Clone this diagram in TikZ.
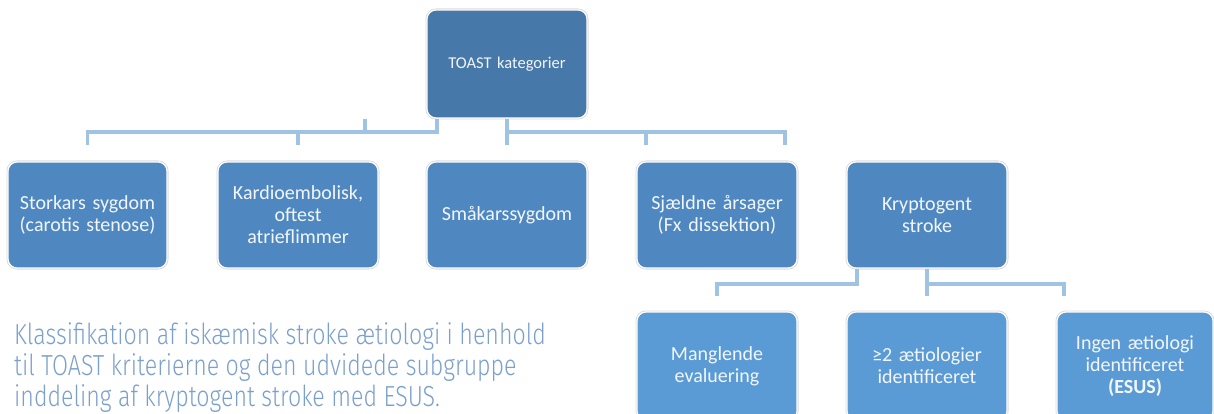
\documentclass[tikz,border=0pt]{standalone}
\usepackage{fontspec}
\setmainfont{Carlito}
\newfontfamily\capfont{Fira Sans Light}
\definecolor{topblue}{RGB}{71,120,170}
\definecolor{midblue}{RGB}{79,136,192}
\definecolor{lowblue}{RGB}{91,155,213}
\definecolor{connblue}{RGB}{160,195,228}
\definecolor{boxtext}{RGB}{242,246,251}
\definecolor{captext}{RGB}{124,160,204}
\newcommand{\captionline}[1]{\scalebox{0.8}[1]{#1}}
\tikzset{
  box/.style={rectangle, rounded corners=9pt, draw=white, line width=1.2pt,
    preaction={draw=black!14, line width=3pt},
    text=boxtext, align=center, inner sep=2pt,
    font=\fontsize{20}{22}\selectfont, text width=150pt},
  conn/.style={draw=connblue, line width=3.5pt},
  caption/.style={anchor=base west, text=captext, inner sep=0pt,
    font=\capfont\fontsize{29}{31}\selectfont}
}
\begin{document}
\begin{tikzpicture}[x=1pt,y=-1pt]
\useasboundingbox (0,0) rectangle (1214,414);
% top
\node[box, fill=topblue, minimum width=160pt, minimum height=108pt,
  font=\fontsize{16.5}{20}\selectfont] (toast) at (507,64) {TOAST kategorier};
% row 1
\node[box, fill=midblue, minimum width=159pt, minimum height=106pt] (b1) at (87.5,215) {Storkars sygdom\\(carotis stenose)};
\node[box, fill=midblue, minimum width=160pt, minimum height=106pt] (b2) at (298,215) {Kardioembolisk,\\oftest\\atrieflimmer};
\node[box, fill=midblue, minimum width=160pt, minimum height=106pt] (b3) at (507,215) {Småkarssygdom};
\node[box, fill=midblue, minimum width=160pt, minimum height=106pt] (b4) at (717,215) {Sjældne årsager\\(Fx dissektion)};
\node[box, fill=midblue, minimum width=160pt, minimum height=106pt] (b5) at (927,215) {Kryptogent\\stroke};
% row 2
\node[box, fill=lowblue, minimum width=160pt, minimum height=108pt] (c1) at (717,366) {Manglende\\evaluering};
\node[box, fill=lowblue, minimum width=160pt, minimum height=108pt] (c2) at (927,366) {≥2 ætiologier\\identificeret};
\node[box, fill=lowblue, minimum width=156pt, minimum height=108pt] (c3) at (1135,366) {Ingen ætiologi\\identificeret\\\textbf{(ESUS)}};
% connector levels
\coordinate (h1) at (0,132);
\coordinate (h2) at (0,284);
% top left group
\draw[conn] ([xshift=-70pt]toast.south) -- ([xshift=-70pt]toast.south |- h1) -| ([yshift=16pt]b1.north);
\draw[conn] (b2.north |- h1) -- ([yshift=16pt]b2.north);
\draw[conn] ([xshift=-142pt]toast.south) -- ([xshift=-142pt]toast.south |- h1);
% top right group
\draw[conn] (toast.south) -- ([yshift=16pt]b3.north);
\draw[conn] (toast.south |- h1) -| ([xshift=68pt,yshift=16pt]b4.north);
\draw[conn] ([xshift=-71pt]b4.north |- h1) -- ([xshift=-71pt,yshift=16pt]b4.north);
% kryptogent group
\draw[conn] ([xshift=-70pt]b5.south) -- ([xshift=-70pt]b5.south |- h2) -| ([yshift=15pt]c1.north);
\draw[conn] (b5.south) -- ([yshift=15pt]c2.north);
\draw[conn] (b5.south |- h2) -| ([xshift=-71pt,yshift=15pt]c3.north);
% caption
\node[caption] (cap1) at (14,344) {\captionline{Klassifikation af iskæmisk stroke ætiologi i henhold}};
\node[caption] (cap2) at (14,375) {\captionline{til TOAST kriterierne og den udvidede subgruppe}};
\node[caption] (cap3) at (14,406) {\captionline{inddeling af kryptogent stroke med ESUS.}};
\end{tikzpicture}
\end{document}
